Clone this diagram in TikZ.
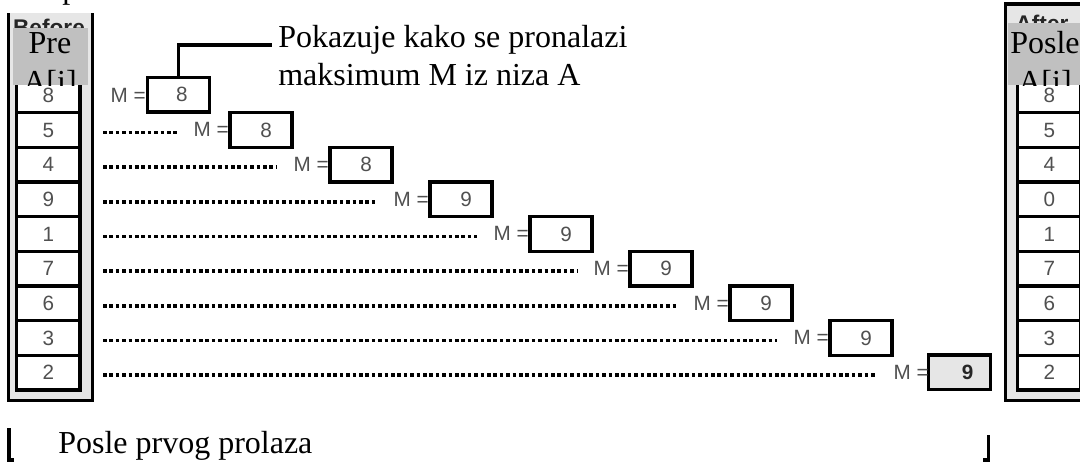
\documentclass[tikz,border=0pt]{standalone}
\usepackage{fontspec}
\setmainfont{Liberation Serif}
\newfontfamily\sansf{Liberation Sans}
\definecolor{frameg}{HTML}{E6E6E6}
\definecolor{lblg}{HTML}{C0C0C0}
\definecolor{dg}{HTML}{505050}
\begin{document}
\begin{tikzpicture}[x=0.75pt,y=-0.75pt,
  framel/.style={line width=2.6pt},
  cellbox/.style={draw=black, line width=2.3pt, fill=white, minimum width=47.6pt, minimum height=26pt, inner sep=0pt, font=\sansf\fontsize{15.5}{17}\selectfont, text=dg},
  mbox/.style={draw=black, line width=2.5pt, fill=white, minimum width=46.5pt, minimum height=26pt, inner sep=0pt},
  mval/.style={font=\sansf\fontsize{15.5}{17}\selectfont, text=dg, inner sep=0pt},
  mlab/.style={font=\sansf\fontsize{15.5}{17}\selectfont, text=dg, inner sep=0pt, anchor=base east},
  dotline/.style={line width=2.6pt, dash pattern=on 2.7pt off 2.1pt},
  serif/.style={font=\fontsize{24}{27}\selectfont, inner sep=0pt, anchor=base west},
  serifc/.style={font=\fontsize{24}{27}\selectfont, inner sep=0pt, anchor=base},
  head/.style={font=\sansf\bfseries\fontsize{17}{19}\selectfont, text=black!85, inner sep=0pt, anchor=base},
]
\useasboundingbox (0,0) rectangle (1080,461);
\fill[white] (0,0) rectangle (1080,461);

% fragment of cut-off text at top
\node[serif] (ptop) at (62,-2) {p};

% left frame
\fill[frameg] (8.5,13) rectangle (92.5,400.5);
\draw[framel] (8.5,13) -- (8.5,400.5) -- (92.5,400.5) -- (92.5,13);
\node[head] (before) at (49,35) {Before};
% right frame
\draw[framel, fill=frameg] (1005.5,4) rectangle (1100,400.5);
\node[head] (after) at (1042,31) {After};

% cells
\foreach \v [count=\k] in {8,5,4,9,1,7,6,3,2} {
  \node[cellbox] (L\k) at (48.25, {95.33+34.67*(\k-1)}) {\v};
}
\foreach \v [count=\k] in {8,5,4,0,1,7,6,3,2} {
  \node[cellbox] (R\k) at (1049.25, {95.33+34.67*(\k-1)}) {\v};
}

% gray labels (clipped)
\fill[lblg] (13,28) rectangle (88,85);
\begin{scope}
  \clip (13,28) rectangle (88,85);
  \node[serifc] (pre1) at (50,53) {Pre};
  \node[serifc] (pre2) at (50,92) {A[i]};
\end{scope}
\fill[lblg] (1008,23) rectangle (1100,85);
\begin{scope}
  \clip (1008,23) rectangle (1100,85);
  \node[serifc] (post1) at (1045,53) {Posle};
  \node[serifc] (post2) at (1045,92) {A[i]};
\end{scope}

% row 1
\node[mbox] (B1) at (178.5,94.8) {};
\node[mval] (V1) at ([xshift=2.5pt]B1.center) {8};
\node[mlab] (M1) at (146,102) {M =};

% rows 2..8
\foreach \k/\v in {2/8,3/8,4/9,5/9,6/9,7/9,8/9} {
  \pgfmathsetmacro\bl{130+100*(\k-1)}
  \pgfmathsetmacro\yc{95.33+34.67*(\k-1)}
  \node[mbox] (B\k) at (\bl+31, \yc) {};
  \node[mval] (V\k) at ([xshift=3.75pt]B\k.center) {\v};
  \node[mlab] (M\k) at (\bl-1, \yc+6.8) {M =};
  \coordinate (D\k) at (103, \yc+2.5);
  \coordinate (E\k) at (\bl-53, \yc+2.5);
  \draw[dotline] (D\k) -- (E\k);
}
% row 9 (result)
\node[mbox, fill=frameg] (B9) at (959.5,372.3) {};
\node[mval, text=black!85, font=\sansf\bfseries\fontsize{15.5}{17}\selectfont] (V9) at ([xshift=6pt]B9.center) {9};
\node[mlab] (M9) at (929,379.5) {M =};
\coordinate (D9) at (103,375.2);
\coordinate (E9) at (875,375.2);
\draw[dotline] (D9) -- (E9);

% callout
\coordinate (nt) at (272,45);
\draw[line width=2.4pt] (B1.north) |- (nt);
\node[serif] (note1) at (278,47) {Pokazuje kako se pronalazi};
\node[serif] (note2) at (278,85) {maksimum M iz niza A};

% bottom
\node[serif] (pass) at (58,453) {Posle prvog prolaza};
\coordinate (lb1) at (9,428);
\coordinate (lb2) at (9,460);
\coordinate (lb3) at (14,460);
\draw[line width=2.8pt] (lb1) -- (lb2) -- (lb3);
\coordinate (rb1) at (988.5,435);
\coordinate (rb2) at (988.5,460);
\coordinate (rb3) at (983,460);
\draw[line width=2.8pt] (rb1) -- (rb2) -- (rb3);
\end{tikzpicture}
\end{document}
